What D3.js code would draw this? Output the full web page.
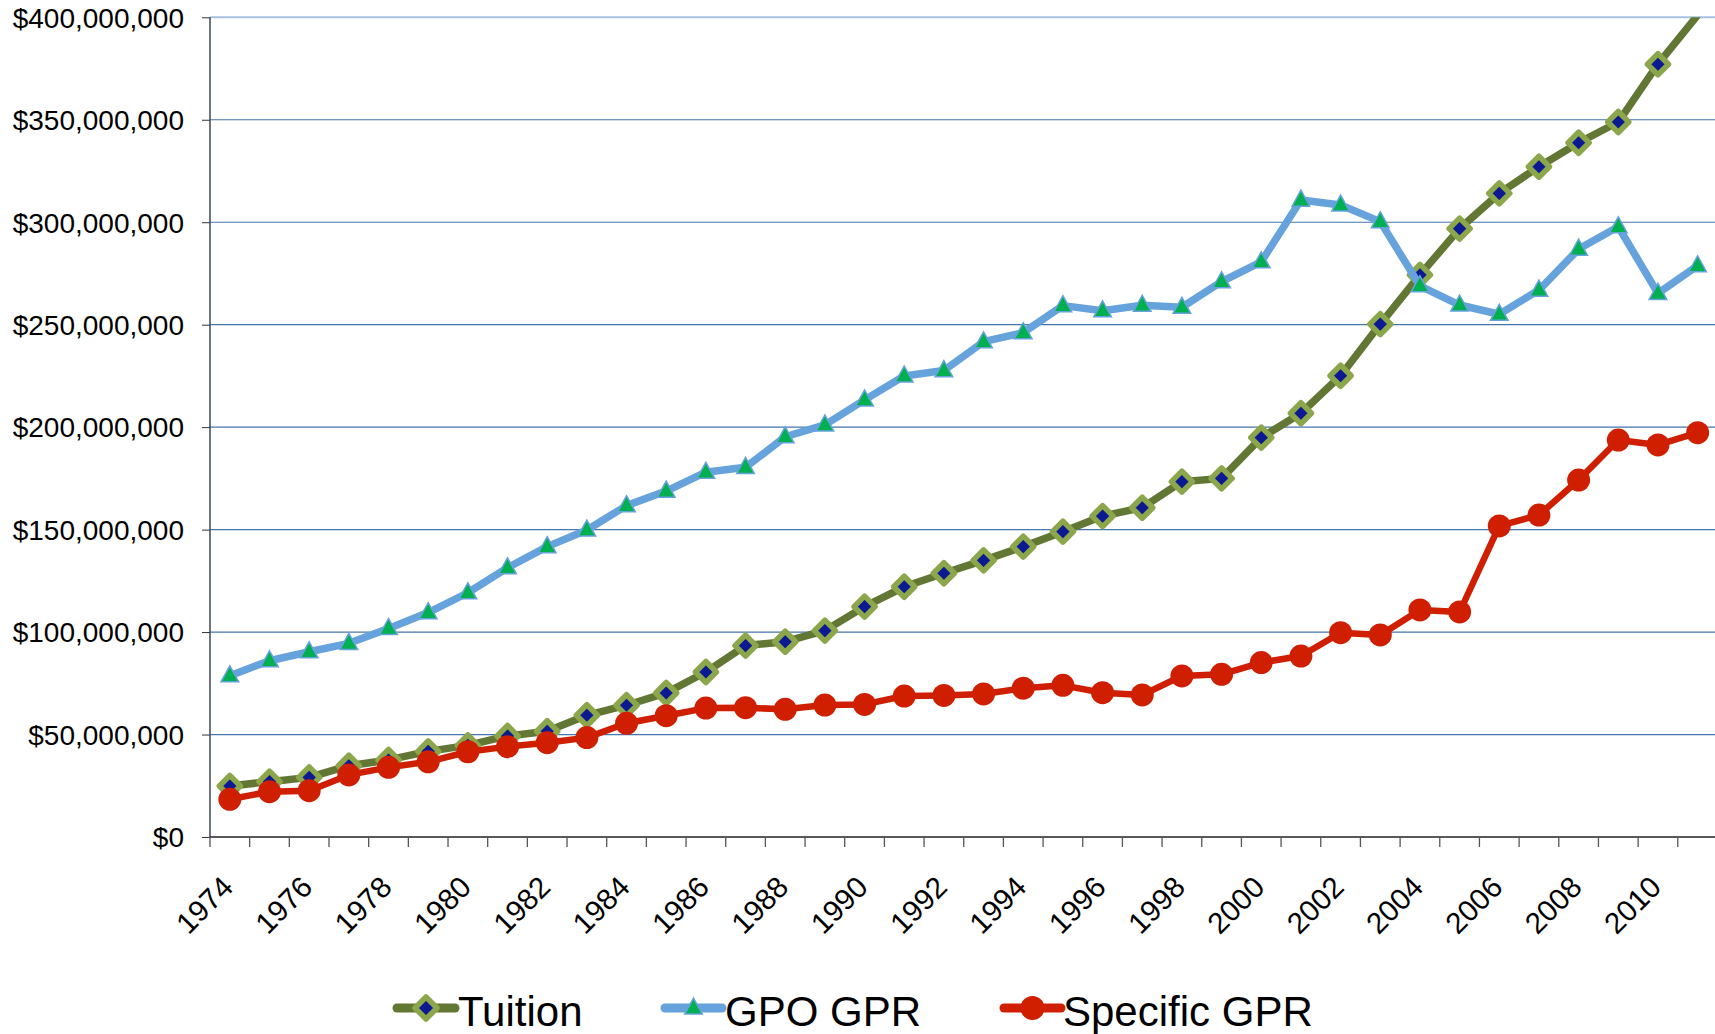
<!DOCTYPE html>
<html>
<head>
<meta charset="utf-8">
<script src="https://cdn.jsdelivr.net/npm/d3@7"></script>
<style>
  html, body { margin: 0; padding: 0; background: #ffffff; }
  svg { display: block; font-family: "Liberation Sans", Arial, sans-serif; }
</style>
</head>
<body>
<svg id="chart" width="1715" height="1034"></svg>
<script>
// ---- data (values in millions of dollars) ----
const years = [1974,1975,1976,1977,1978,1979,1980,1981,1982,1983,1984,1985,1986,1987,1988,1989,1990,1991,1992,1993,1994,1995,1996,1997,1998,1999,2000,2001,2002,2003,2004,2005,2006,2007,2008,2009,2010,2011];
const tuition = [24.9,27.0,29.1,34.8,37.6,41.8,44.7,49.3,51.6,59.4,64.3,70.3,80.5,93.4,95.3,100.7,112.4,122.1,128.7,135.0,141.7,149.0,156.6,160.7,173.4,175.0,194.9,206.8,225.1,250.3,274.3,296.9,314.1,327.1,338.8,348.9,377.1,401.0];
const gpoGpr = [78.7,86.0,90.4,94.5,101.8,109.5,119.2,131.4,141.7,149.8,161.7,168.8,178.0,180.4,195.3,201.1,213.3,225.0,227.6,241.7,246.1,259.3,256.8,259.5,258.5,271.0,280.7,310.8,308.4,300.3,269.0,259.6,255.1,266.9,286.9,297.8,265.3,278.8];
const specificGpr = [18.4,22.1,22.6,30.3,34.0,36.7,41.6,44.1,46.0,48.5,55.5,59.2,62.9,63.1,62.3,64.4,64.7,68.8,69.1,69.8,72.6,74.0,70.4,69.3,78.6,79.4,85.1,88.3,99.7,98.6,110.8,109.8,151.8,157.1,174.2,193.7,191.3,197.3];
const yTicks = [0,50,100,150,200,250,300,350,400];
const xLabelYears = [1974,1976,1978,1980,1982,1984,1986,1988,1990,1992,1994,1996,1998,2000,2002,2004,2006,2008,2010];
const seriesNames = ["Tuition","GPO GPR","Specific GPR"];

(function () {
// ---- layout ----
const svg = d3.select("#chart");
const pLeft = 210, pRight = 210 + 38 * 39.67, pTop = 17.3, pBottom = 837;

const x = d3.scaleBand().domain(years).range([pLeft, pRight]).paddingInner(0).paddingOuter(0);
const cx = d => x(d) + x.bandwidth() / 2;
const y = d3.scaleLinear().domain([0, 400]).range([pBottom, pTop]);
const fmt = d3.format(",");

// clip
svg.append("defs").append("clipPath").attr("id", "plotclip")
  .append("rect").attr("x", pLeft).attr("y", pTop).attr("width", 1715 - pLeft).attr("height", pBottom - pTop + 20);

// gridlines
svg.append("g").selectAll("line").data(yTicks.filter(d => d > 0)).join("line")
  .attr("x1", pLeft).attr("x2", 1715)
  .attr("y1", d => y(d)).attr("y2", d => y(d))
  .attr("stroke", d => d === 400 ? "#a9c1e0" : "#4575ad").attr("stroke-width", d => d === 400 ? 2 : 1.2);

// y axis
const yAxis = svg.append("g").attr("transform", `translate(${pLeft},0)`)
  .call(d3.axisLeft(y).tickValues(yTicks).tickSize(8).tickPadding(18)
    .tickFormat(d => "$" + fmt(d * 1e6)));
yAxis.select(".domain").attr("stroke", "#4a5361").attr("stroke-width", 1.6).attr("d", `M0,${pTop}V${pBottom}`);
yAxis.selectAll(".tick line").attr("stroke", "#333");
yAxis.selectAll(".tick text").attr("font-size", 28).attr("fill", "#000")
  .attr("font-family", "'Liberation Sans', Arial, sans-serif").attr("dy", "0.35em");

// x axis line
svg.append("line").attr("x1", pLeft).attr("x2", 1715).attr("y1", pBottom).attr("y2", pBottom)
  .attr("stroke", "#222").attr("stroke-width", 1.6);
// x ticks between categories
svg.append("g").selectAll("line").data(years).join("line")
  .attr("x1", d => x(d)).attr("x2", d => x(d))
  .attr("y1", pBottom).attr("y2", pBottom + 10)
  .attr("stroke", "#555").attr("stroke-width", 1.3);
// x labels
svg.append("g").selectAll("text").data(xLabelYears).join("text")
  .attr("transform", d => `translate(${cx(d) + 5},${pBottom + 52}) rotate(-45)`)
  .attr("text-anchor", "end")
  .attr("font-size", 29.5).attr("fill", "#000")
  .text(d => d);

// ---- series ----
const diamond = (r) => `M0,${-r}L${r},0L0,${r}L${-r},0Z`;
const triangle = (s) => `M0,${-s * 0.62}L${s * 0.55},${s * 0.38}L${-s * 0.55},${s * 0.38}Z`;

const line = d3.line().x(d => cx(d.year)).y(d => y(d.v)).curve(d3.curveLinear);
const toPts = arr => years.map((yr, i) => ({ year: yr, v: arr[i] }));

const plot = svg.append("g").attr("clip-path", "url(#plotclip)");

// Tuition
const tPts = toPts(tuition);
plot.append("path").datum(tPts).attr("d", line)
  .attr("fill", "none").attr("stroke", "#637735").attr("stroke-width", 7.5)
  .attr("stroke-linejoin", "round").attr("stroke-linecap", "round");
plot.append("g").selectAll("path").data(tPts.filter(d => d.v <= 400)).join("path")
  .attr("transform", d => `translate(${cx(d.year)},${y(d.v)})`)
  .attr("d", diamond(10.5)).attr("fill", "#0b1a90").attr("stroke", "#8ca64c")
  .attr("stroke-width", 5.5).attr("stroke-linejoin", "round");

// GPO GPR
const gPts = toPts(gpoGpr);
plot.append("path").datum(gPts).attr("d", line)
  .attr("fill", "none").attr("stroke", "#66a2dc").attr("stroke-width", 7.5)
  .attr("stroke-linejoin", "round").attr("stroke-linecap", "round");
plot.append("g").selectAll("path").data(gPts.filter(d => d.v <= 400)).join("path")
  .attr("transform", d => `translate(${cx(d.year)},${y(d.v)})`)
  .attr("d", triangle(16)).attr("fill", "#00b050").attr("stroke", "#66a2dc").attr("stroke-width", 1.5);

// Specific GPR
const sPts = toPts(specificGpr);
plot.append("path").datum(sPts).attr("d", line)
  .attr("fill", "none").attr("stroke", "#d01f00").attr("stroke-width", 6.5)
  .attr("stroke-linejoin", "round").attr("stroke-linecap", "round");
plot.append("g").selectAll("circle").data(sPts.filter(d => d.v <= 400)).join("circle")
  .attr("cx", d => cx(d.year)).attr("cy", d => y(d.v)).attr("r", 11.5)
  .attr("fill", "#d01f00");

// ---- legend ----
const legendY = 1008;
const legendItems = [
  { name: seriesNames[0], x0: 397, x1: 455, tx: 458, color: "#637735", w: 9, marker: "diamond" },
  { name: seriesNames[1], x0: 665, x1: 722, tx: 725, color: "#66a2dc", w: 9, marker: "triangle" },
  { name: seriesNames[2], x0: 1004, x1: 1061, tx: 1063, color: "#d01f00", w: 9, marker: "circle" }
];
const lg = svg.append("g");
legendItems.forEach(it => {
  lg.append("line").attr("x1", it.x0).attr("x2", it.x1).attr("y1", legendY).attr("y2", legendY)
    .attr("stroke", it.color).attr("stroke-width", it.w).attr("stroke-linecap", "round");
  const mx = (it.x0 + it.x1) / 2;
  if (it.marker === "diamond") {
    lg.append("path").attr("transform", `translate(${mx},${legendY})`).attr("d", diamond(11))
      .attr("fill", "#0b1a90").attr("stroke", "#8ca64c").attr("stroke-width", 5.5).attr("stroke-linejoin", "round");
  } else if (it.marker === "triangle") {
    lg.append("path").attr("transform", `translate(${mx},${legendY})`).attr("d", triangle(16))
      .attr("fill", "#00b050").attr("stroke", "#66a2dc").attr("stroke-width", 1.5);
  } else {
    lg.append("circle").attr("cx", mx).attr("cy", legendY).attr("r", 12).attr("fill", it.color);
  }
  lg.append("text").attr("x", it.tx).attr("y", legendY + 18).attr("font-size", 42).attr("fill", "#000")
    .text(it.name);
});
})();
</script>
</body>
</html>
